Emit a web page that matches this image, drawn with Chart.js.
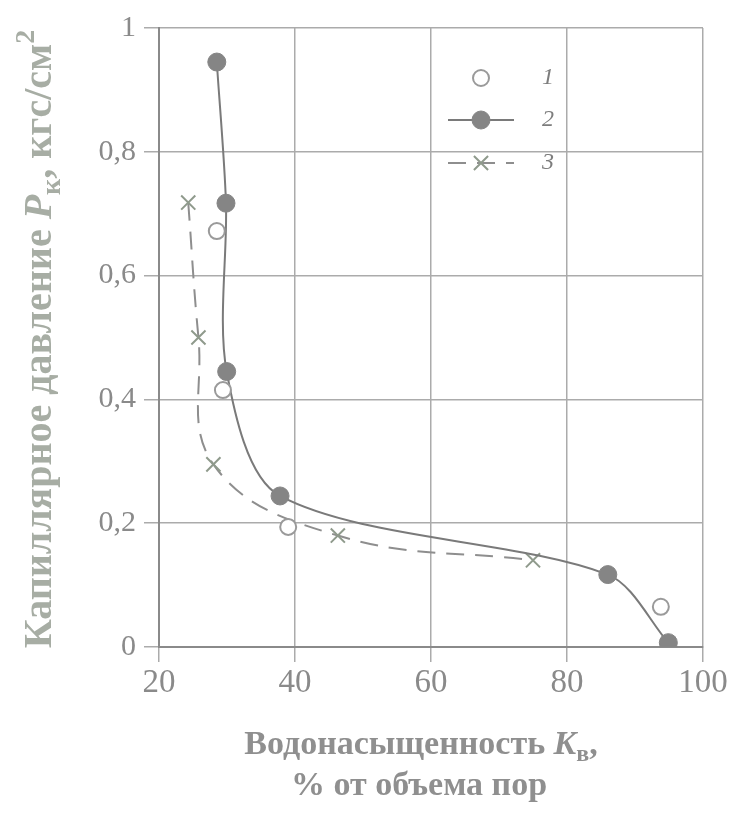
<!DOCTYPE html>
<html>
<head>
<meta charset="utf-8">
<script src="https://cdn.jsdelivr.net/npm/chart.js@4/dist/chart.umd.min.js"></script>
<style>
  html, body { margin: 0; padding: 0; background: #fff; }
  #wrap { width: 748px; height: 815px; }
</style>
</head>
<body>
<div id="wrap"><canvas id="myChart" width="748" height="815"></canvas></div>
<script>
// ---- data ----
var xOpen   = [28.5, 29.4, 39.0, 93.8];            // series 1 (open circles)
var yOpen   = [0.672, 0.415, 0.194, 0.065];
var xFilled = [28.5, 29.85, 29.95, 37.8, 86.0, 94.9]; // series 2 (filled circles, solid line)
var yFilled = [0.945, 0.717, 0.445, 0.244, 0.117, 0.007];
var xCross  = [24.3, 25.8, 28.0, 46.3, 75.0];       // series 3 (crosses, dashed line)
var yCross  = [0.718, 0.50, 0.295, 0.18, 0.14];
var xTicks  = [20, 40, 60, 80, 100];
var yTicks  = [0, 0.2, 0.4, 0.6, 0.8, 1];
var legendLabels = ["1", "2", "3"];

function pts(xs, ys) {
    var out = [];
    for (var i = 0; i < xs.length; i++) out.push({x: xs[i], y: ys[i]});
    return out;
}

var SERIF = "'Liberation Serif', 'DejaVu Serif', serif";

// draws a run of text pieces (with sub/superscripts), centred on 0,0
function drawRuns(ctx, runs, size, target) {
    function fontFor(r, s) {
        var st = (r.italic ? "italic " : "") + "bold ";
        return st + Math.round(s * (r.sub || r.sup ? 0.7 : 1)) + "px " + SERIF;
    }
    function total(s) {
        var w = 0;
        runs.forEach(function (r) { ctx.font = fontFor(r, s); w += ctx.measureText(r.t).width; });
        return w;
    }
    if (target) size = size * target / total(size);
    var x = -total(size) / 2;
    ctx.textBaseline = "middle";
    ctx.textAlign = "left";
    runs.forEach(function (r) {
        ctx.font = fontFor(r, size);
        var dy = r.sub ? size * 0.3 : (r.sup ? -size * 0.35 : 0);
        ctx.fillText(r.t, x, dy);
        x += ctx.measureText(r.t).width;
    });
}

var extras = {
    id: "extras",
    afterDraw: function (chart) {
        var ctx = chart.ctx;
        // y axis title
        ctx.save();
        ctx.fillStyle = "#a7ada4";
        ctx.translate(41, 339);
        ctx.rotate(-Math.PI / 2);
        drawRuns(ctx, [
            {t: "Капиллярное давление "},
            {t: "P", italic: true},
            {t: "к", sub: true},
            {t: ", кгс/см"},
            {t: "2", sup: true}
        ], 28, 612);
        ctx.restore();

        // x axis title, two lines
        ctx.save();
        ctx.fillStyle = "#8f8f8f";
        ctx.translate(421, 745);
        drawRuns(ctx, [
            {t: "Водонасыщенность "},
            {t: "K", italic: true},
            {t: "в", sub: true},
            {t: ","}
        ], 26, 356);
        ctx.restore();
        ctx.save();
        ctx.fillStyle = "#8f8f8f";
        ctx.translate(419, 786);
        drawRuns(ctx, [{t: "% от объема пор"}], 26, 258);
        ctx.restore();

        // legend inside the plot
        var ds = chart.data.datasets;
        var rows = [78, 120, 163];
        ctx.save();
        for (var i = 0; i < ds.length; i++) {
            var d = ds[i], y = rows[i];
            if (d.showLine) {
                ctx.strokeStyle = d.borderColor;
                ctx.lineWidth = 2;
                ctx.setLineDash(d.borderDash || []);
                ctx.beginPath();
                ctx.moveTo(448, y);
                ctx.lineTo(514, y);
                ctx.stroke();
                ctx.setLineDash([]);
            }
            ctx.fillStyle = d.pointBackgroundColor;
            ctx.strokeStyle = d.pointBorderColor;
            ctx.lineWidth = d.pointBorderWidth;
            Chart.helpers.drawPoint(ctx, {
                pointStyle: d.pointStyle, radius: d.pointRadius, rotation: 0, borderWidth: d.pointBorderWidth
            }, 481, y);
            ctx.fillStyle = "#7d7d7d";
            ctx.font = "italic 24px " + SERIF;
            ctx.textAlign = "center";
            ctx.textBaseline = "middle";
            ctx.fillText(legendLabels[i], 548, y);
        }
        ctx.restore();
    }
};

var ctx = document.getElementById("myChart").getContext("2d");
var myChart = new Chart(ctx, {
    type: "scatter",
    data: {
        datasets: [{
            label: legendLabels[0],
            data: pts(xOpen, yOpen),
            showLine: false,
            pointStyle: "circle",
            pointRadius: 8,
            pointBorderWidth: 2,
            pointBackgroundColor: "#ffffff",
            pointBorderColor: "#9a9a9a"
        }, {
            label: legendLabels[1],
            data: pts(xFilled, yFilled),
            showLine: true,
            tension: 0.3,
            borderColor: "#7a7a7a",
            borderWidth: 2,
            pointStyle: "circle",
            pointRadius: 9,
            pointBorderWidth: 1,
            pointBackgroundColor: "#858585",
            pointBorderColor: "#858585"
        }, {
            label: legendLabels[2],
            data: pts(xCross, yCross),
            showLine: true,
            tension: 0.4,
            borderColor: "#8e8e8e",
            borderWidth: 2,
            borderDash: [18, 11],
            pointStyle: "crossRot",
            pointRadius: 10,
            pointBorderWidth: 2,
            pointBackgroundColor: "#8f9a8c",
            pointBorderColor: "#8f9a8c"
        }]
    },
    options: {
        responsive: false,
        animation: false,
        layout: { padding: { top: 28, right: 45, left: 0, bottom: 0 } },
        plugins: { legend: { display: false }, tooltip: { enabled: false } },
        scales: {
            x: {
                type: "linear",
                min: 20, max: 100,
                afterBuildTicks: function (s) { s.ticks = xTicks.map(function (v) { return {value: v}; }); },
                afterFit: function (s) { s.height = 168; },
                ticks: { color: "#8a8a8a", font: { family: SERIF, size: 33 }, padding: 2, maxRotation: 0 },
                grid: { color: "#ababab", lineWidth: 1.5, tickLength: 15, tickColor: "#ababab" },
                border: { color: "#8a8a8a", width: 2 }
            },
            y: {
                min: 0, max: 1,
                afterBuildTicks: function (s) { s.ticks = yTicks.map(function (v) { return {value: v}; }); },
                afterFit: function (s) { s.width = 159; },
                ticks: {
                    color: "#8a8a8a", font: { family: SERIF, size: 30 }, padding: 8,
                    callback: function (v) { return String(Math.round(v * 10) / 10).replace(".", ","); }
                },
                grid: { color: "#ababab", lineWidth: 1.5, tickLength: 15, tickColor: "#ababab" },
                border: { color: "#8a8a8a", width: 2 }
            }
        }
    },
    plugins: [extras]
});
</script>
</body>
</html>
